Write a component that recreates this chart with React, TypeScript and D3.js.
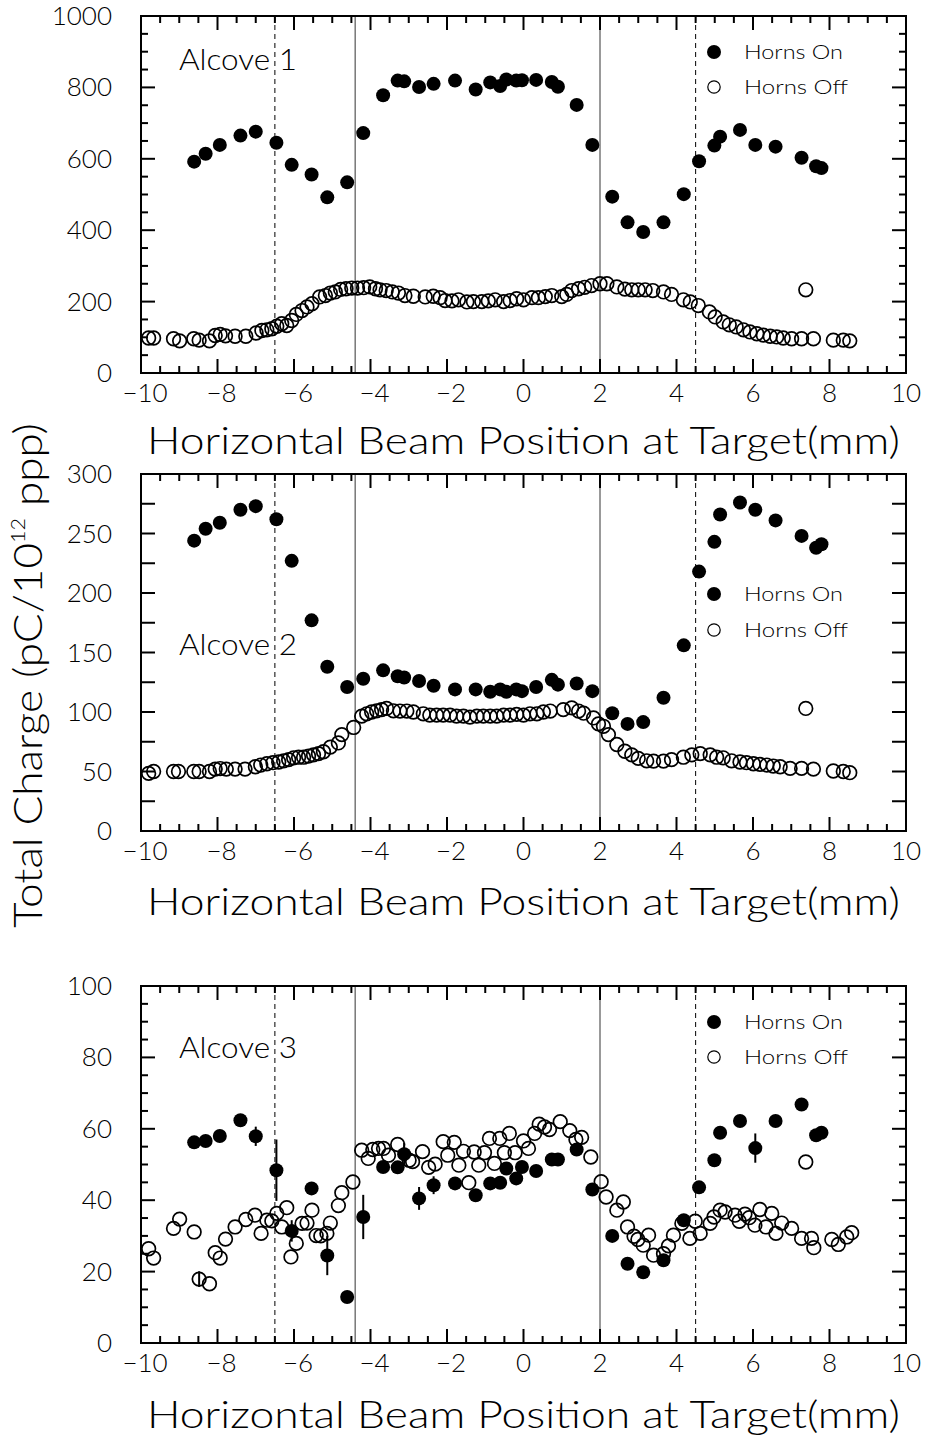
import React from "react";
import * as d3 from "d3";

// ---------- data ----------
const onX = [-8.61, -8.31, -7.94, -7.4, -7.0, -6.46, -6.06, -5.54, -5.13, -4.61, -4.19, -3.67, -3.29, -3.12, -2.73, -2.35, -1.79, -1.25, -0.87, -0.61, -0.45, -0.19, -0.04, 0.33, 0.74, 0.9, 1.39, 1.8, 2.32, 2.72, 3.13, 3.66, 4.19, 4.59, 4.99, 5.14, 5.66, 6.06, 6.59, 7.27, 7.65, 7.79];

const alcove1On = [592, 614, 639, 665, 676, 645, 583, 556, 492, 534, 672, 778, 819, 817, 801, 810, 819, 794, 814, 804, 822, 819, 820, 821, 815, 802, 751, 639, 494, 422, 395, 422, 501, 593, 637, 662, 681, 639, 634, 603, 579, 574];
const alcove2On = [244, 254, 259, 270, 273, 262, 227, 177, 138, 121, 128, 135, 130, 129, 126, 122, 119, 119, 117, 119, 117, 119, 117.5, 121, 127, 123, 124, 117.5, 99, 90, 91.5, 112, 156, 218, 243, 266, 276, 270, 261, 248, 238, 241];
const alcove3On = [56.2, 56.6, 58.0, 62.4, 57.9, 48.4, 31.4, 43.3, 24.5, 12.9, 35.3, 49.3, 49.2, 52.9, 40.5, 44.2, 44.7, 41.4, 44.7, 44.9, 48.9, 46.1, 49.3, 48.2, 51.4, 51.4, 54.2, 43.0, 30.0, 22.2, 19.8, 23.2, 34.4, 43.6, 51.2, 58.9, 62.2, 54.6, 62.2, 66.8, 58.2, 58.9];
const alcove3OnErr = [0, 0, 0, 0, 2.7, 8.6, 3, 0, 5.5, 0, 6.2, 0, 0, 3.2, 3.2, 2.5, 0, 0, 0, 0, 0, 0, 0, 0, 0, 0, 0, 0, 0, 0, 0, 0, 0, 0, 0, 0, 0, 4.1, 0, 0, 0, 0];

const alcove1Off: [number, number][] = [[-9.8, 98], [-9.67, 98], [-9.15, 96], [-8.99, 90], [-8.62, 96], [-8.48, 92], [-8.21, 90], [-8.06, 105], [-7.93, 108], [-7.79, 104], [-7.54, 103], [-7.26, 103], [-6.99, 112], [-6.84, 119], [-6.71, 121], [-6.58, 124], [-6.45, 131], [-6.32, 138], [-6.19, 133], [-6.06, 147], [-5.94, 164], [-5.79, 175], [-5.66, 185], [-5.53, 194], [-5.33, 213], [-5.18, 217], [-5.05, 224], [-4.92, 227], [-4.78, 234], [-4.64, 236], [-4.49, 238], [-4.34, 238], [-4.18, 239], [-4.02, 241], [-3.87, 236], [-3.75, 233], [-3.59, 231], [-3.43, 227], [-3.27, 224], [-3.1, 217], [-2.88, 215], [-2.57, 213], [-2.36, 215], [-2.18, 211], [-2.05, 203], [-1.87, 202], [-1.7, 205], [-1.48, 199], [-1.31, 200], [-1.09, 200], [-0.92, 202], [-0.74, 205], [-0.52, 200], [-0.35, 203], [-0.18, 208], [0.0, 205], [0.22, 211], [0.39, 211], [0.57, 214], [0.74, 217], [1.0, 214], [1.13, 220], [1.26, 231], [1.44, 236], [1.6, 240], [1.78, 245], [2.0, 250], [2.18, 250], [2.44, 241], [2.65, 235], [2.83, 233], [3.0, 233], [3.18, 233], [3.38, 231], [3.66, 227], [3.87, 220], [4.18, 205], [4.36, 199], [4.57, 189], [4.86, 171], [5.01, 157], [5.22, 143], [5.38, 135], [5.56, 129], [5.75, 121], [5.92, 115], [6.1, 110], [6.27, 106], [6.45, 103], [6.62, 101], [6.79, 98], [7.01, 96], [7.27, 96], [7.58, 96], [8.1, 92], [8.36, 92], [8.53, 90], [7.38, 233]];

const alcove2Off: [number, number][] = [[-9.8, 48.4], [-9.67, 50], [-9.15, 50], [-9.02, 50], [-8.62, 50], [-8.48, 50], [-8.21, 50], [-8.06, 52], [-7.93, 52.5], [-7.77, 52], [-7.54, 52], [-7.28, 52], [-7.01, 54], [-6.87, 55.4], [-6.71, 56.5], [-6.55, 57.4], [-6.4, 58], [-6.27, 59], [-6.14, 60], [-6.01, 61.5], [-5.88, 62], [-5.75, 62], [-5.62, 63], [-5.49, 64], [-5.36, 65], [-5.23, 66.6], [-5.05, 70.5], [-4.84, 74], [-4.75, 81], [-4.44, 87], [-4.23, 96.5], [-4.1, 98.5], [-3.97, 100], [-3.84, 101], [-3.71, 102], [-3.58, 103], [-3.4, 101], [-3.23, 100.8], [-3.05, 100.8], [-2.88, 100], [-2.62, 98.5], [-2.45, 97.4], [-2.27, 97.4], [-2.1, 97.4], [-1.92, 97.4], [-1.75, 96.5], [-1.57, 96.5], [-1.4, 95.7], [-1.22, 96.5], [-1.05, 96.5], [-0.87, 96.5], [-0.7, 96.5], [-0.52, 97.4], [-0.35, 97.4], [-0.18, 98], [0.0, 97.4], [0.17, 98.5], [0.35, 98.5], [0.52, 100], [0.7, 100.8], [1.04, 102], [1.26, 103.5], [1.44, 100.8], [1.57, 99], [1.83, 95], [1.96, 90], [2.09, 88], [2.22, 81], [2.44, 72.7], [2.65, 67], [2.83, 64], [3.0, 61], [3.22, 59], [3.4, 58.7], [3.66, 58.7], [3.87, 60], [4.18, 62], [4.4, 64], [4.62, 65], [4.88, 64], [5.05, 62], [5.22, 61.5], [5.44, 59], [5.66, 58], [5.83, 57.4], [6.01, 56.5], [6.18, 56], [6.36, 55.4], [6.53, 54.6], [6.71, 54], [6.97, 52.6], [7.27, 52.6], [7.58, 52], [8.1, 50.4], [8.36, 50], [8.53, 49], [7.38, 103]];

const alcove3Off: [number, number][] = [[-9.8, 26.4], [-9.67, 23.8], [-9.15, 32.1], [-8.99, 34.7], [-8.61, 31.1], [-8.48, 17.9], [-8.21, 16.6], [-8.06, 25.3], [-7.93, 23.8], [-7.79, 29.1], [-7.54, 32.5], [-7.26, 34.6], [-7.02, 35.8], [-6.86, 30.7], [-6.71, 34.4], [-6.58, 34.2], [-6.45, 36.3], [-6.32, 32.5], [-6.19, 37.9], [-6.08, 24.1], [-5.94, 27.9], [-5.79, 33.5], [-5.66, 33.6], [-5.53, 37.2], [-5.42, 30.1], [-5.3, 30.0], [-5.14, 30.7], [-5.05, 33.6], [-4.84, 38.5], [-4.75, 42.1], [-4.46, 45.1], [-4.23, 54.0], [-4.06, 51.7], [-3.94, 54.2], [-3.79, 54.5], [-3.66, 54.5], [-3.53, 52.6], [-3.29, 55.6], [-2.99, 51.2], [-2.9, 50.8], [-2.64, 53.6], [-2.48, 49.2], [-2.31, 50.1], [-2.1, 56.4], [-1.98, 52.6], [-1.81, 56.2], [-1.69, 49.8], [-1.57, 53.7], [-1.43, 44.9], [-1.29, 53.5], [-1.17, 49.8], [-1.02, 53.3], [-0.89, 57.3], [-0.76, 50.3], [-0.62, 57.3], [-0.5, 53.3], [-0.37, 58.7], [-0.22, 53.3], [0.0, 56.6], [0.13, 54.5], [0.29, 58.7], [0.41, 61.3], [0.55, 60.5], [0.68, 59.8], [0.96, 62.0], [1.21, 59.5], [1.37, 57.0], [1.52, 57.6], [1.76, 52.1], [2.03, 45.2], [2.16, 40.9], [2.44, 37.2], [2.61, 39.5], [2.72, 32.5], [2.89, 29.9], [2.99, 29.0], [3.13, 27.4], [3.27, 30.2], [3.4, 24.6], [3.66, 25.0], [3.79, 27.2], [3.92, 30.2], [4.14, 33.5], [4.35, 29.3], [4.49, 34.1], [4.62, 30.7], [4.88, 33.5], [4.98, 35.3], [5.14, 37.2], [5.27, 36.7], [5.53, 35.8], [5.64, 34.1], [5.79, 36.1], [5.9, 35.1], [6.05, 33.0], [6.18, 37.4], [6.34, 32.5], [6.49, 36.3], [6.6, 30.7], [6.75, 33.6], [7.01, 32.1], [7.27, 29.3], [7.53, 29.3], [7.59, 26.7], [8.06, 29.0], [8.23, 27.6], [8.45, 29.7], [8.58, 30.9], [7.38, 50.7]];
const alcove3OffErr: [number, number][] = [[-8.48, 2.2]];

const xTickLabels = [-10, -8, -6, -4, -2, 0, 2, 4, 6, 8, 10];
const solidLines = [-4.4, 2];
const dashedLines = [-6.5, 4.5];
const alcoveNames = ["Alcove 1", "Alcove 2", "Alcove 3"];
const legendNames = ["Horns On", "Horns Off"];
const xTitle = "Horizontal Beam Position at Target(mm)";

// ---------- layout ----------
const FONT = "Lato, 'Liberation Sans', 'DejaVu Sans', sans-serif";
const FW = 300;
const LEFT = 141;
const RIGHT = 906;
const PH = 357;

type Panel = {
  top: number;
  yMax: number;
  labelStep: number;
  minorStep: number;
  majorStep: number;
  on: number[];
  onErr?: number[];
  off: [number, number][];
  offErr?: [number, number][];
  legendDy: [number, number];
  alcoveDy: number;
  titleDy: number;
};

const panels: Panel[] = [
  { top: 16, yMax: 1000, labelStep: 200, minorStep: 50, majorStep: 200, on: alcove1On, off: alcove1Off, legendDy: [36, 71], alcoveDy: 54, titleDy: 81 },
  { top: 474, yMax: 300, labelStep: 50, minorStep: 25, majorStep: 25, on: alcove2On, off: alcove2Off, legendDy: [120, 156], alcoveDy: 181, titleDy: 84 },
  { top: 986, yMax: 100, labelStep: 20, minorStep: 5, majorStep: 20, on: alcove3On, onErr: alcove3OnErr, off: alcove3Off, offErr: alcove3OffErr, legendDy: [36, 71], alcoveDy: 72, titleDy: 85 },
];

const x = d3.scaleLinear().domain([-10, 10]).range([LEFT, RIGHT]);
const fmt = (v: number) => (v < 0 ? "\u2212" + Math.abs(v) : String(v));
const isMult = (v: number, s: number) => Math.abs(v / s - Math.round(v / s)) < 1e-6;

function PanelView({ p, idx }: { p: Panel; idx: number }) {
  const bottom = p.top + PH;
  const y = d3.scaleLinear().domain([0, p.yMax]).range([bottom, p.top]);
  const xTicks = d3.range(-10, 10.0001, 0.5);
  const yTicks = d3.range(0, p.yMax + 1e-6, p.minorStep);
  const yLabels = d3.range(0, p.yMax + 1e-6, p.labelStep);
  return (
    <g>
      {solidLines.map((v) => (
        <line key={"s" + v} x1={x(v)} x2={x(v)} y1={p.top} y2={bottom} stroke="#777" strokeWidth={1.5} />
      ))}
      {dashedLines.map((v) => (
        <line key={"d" + v} x1={x(v)} x2={x(v)} y1={p.top} y2={bottom} stroke="#000" strokeWidth={1} strokeDasharray="5,4" />
      ))}
      {p.off.map(([a, b], i) => (
        <circle key={"o" + i} cx={x(a)} cy={y(b)} r={6.8} fill="none" stroke="#000" strokeWidth={1.7} />
      ))}
      {(p.offErr || []).map(([a, e], i) => {
        const pt = p.off.find((d) => d[0] === a)!;
        return <line key={"oe" + i} x1={x(a)} x2={x(a)} y1={y(pt[1] - e)} y2={y(pt[1] + e)} stroke="#000" strokeWidth={2} />;
      })}
      {p.on.map((b, i) => (
        <circle key={"f" + i} cx={x(onX[i])} cy={y(b)} r={7} fill="#000" />
      ))}
      {(p.onErr || []).map((e, i) =>
        e > 0 ? (
          <line key={"fe" + i} x1={x(onX[i])} x2={x(onX[i])} y1={y(p.on[i] - e)} y2={y(p.on[i] + e)} stroke="#000" strokeWidth={2} />
        ) : null
      )}
      <rect x={LEFT} y={p.top} width={RIGHT - LEFT} height={PH} fill="none" stroke="#000" strokeWidth={2} />
      {xTicks.map((v) => {
        const L = isMult(v, 2) ? 14 : 7;
        return (
          <g key={"xt" + v}>
            <line x1={x(v)} x2={x(v)} y1={bottom} y2={bottom - L} stroke="#000" strokeWidth={2} />
            <line x1={x(v)} x2={x(v)} y1={p.top} y2={p.top + L} stroke="#000" strokeWidth={2} />
          </g>
        );
      })}
      {yTicks.map((v) => {
        const L = isMult(v, p.majorStep) ? 14 : 7;
        return (
          <g key={"yt" + v}>
            <line x1={LEFT} x2={LEFT + L} y1={y(v)} y2={y(v)} stroke="#000" strokeWidth={2} />
            <line x1={RIGHT} x2={RIGHT - L} y1={y(v)} y2={y(v)} stroke="#000" strokeWidth={2} />
          </g>
        );
      })}
      {xTickLabels.map((v) => (
        <text key={"xl" + v} x={x(v) + (v < 0 ? 4 : 0)} y={bottom + 29} textAnchor="middle" fontSize={26} fontWeight={FW} fontFamily={FONT} fill="#000">
          {fmt(v)}
        </text>
      ))}
      {yLabels.map((v) => (
        <text key={"yl" + v} x={112} y={y(v) + 9} textAnchor="end" fontSize={26} fontWeight={FW} fontFamily={FONT} fill="#000">
          {v}
        </text>
      ))}
      <text x={179} y={p.top + p.alcoveDy} fontSize={30} fontWeight={FW} fontFamily={FONT} fill="#000" textLength={118} lengthAdjust="spacingAndGlyphs">
        {alcoveNames[idx]}
      </text>
      <circle cx={714} cy={p.top + p.legendDy[0]} r={7} fill="#000" />
      <text x={744} y={p.top + p.legendDy[0] + 7} fontSize={20} fontWeight={FW} fontFamily={FONT} fill="#000" textLength={99} lengthAdjust="spacingAndGlyphs">
        {legendNames[0]}
      </text>
      <circle cx={714} cy={p.top + p.legendDy[1]} r={6.2} fill="none" stroke="#000" strokeWidth={1.2} />
      <text x={744} y={p.top + p.legendDy[1] + 7} fontSize={20} fontWeight={FW} fontFamily={FONT} fill="#000" textLength={104} lengthAdjust="spacingAndGlyphs">
        {legendNames[1]}
      </text>
      <text x={147} y={bottom + p.titleDy} fontSize={38} fontWeight={FW} fontFamily={FONT} fill="#000" textLength={753} lengthAdjust="spacingAndGlyphs">
        {xTitle}
      </text>
    </g>
  );
}

export default function App() {
  return (
    <svg width={925} height={1441} style={{ position: "absolute", left: 0, top: 0, background: "#fff" }}>
      <rect x={0} y={0} width={925} height={1441} fill="#fff" />
      {panels.map((p, i) => (
        <PanelView key={i} p={p} idx={i} />
      ))}
      <text transform="translate(42,928) rotate(-90)" x={0} y={0} fontSize={39} fontWeight={FW} fontFamily={FONT} fill="#000" textLength={505} lengthAdjust="spacingAndGlyphs">
        Total Charge (pC/10<tspan fontSize={19} dy={-17}>12</tspan>
        <tspan dy={17}> ppp)</tspan>
      </text>
    </svg>
  );
}
